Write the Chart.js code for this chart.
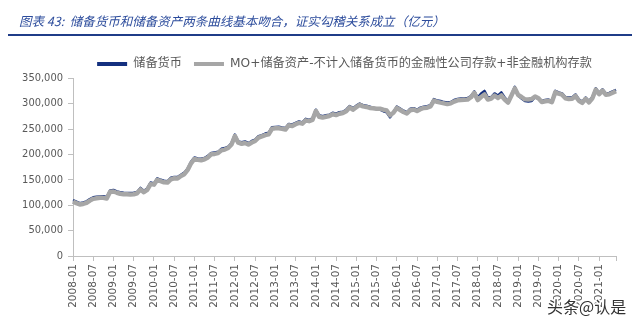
<!DOCTYPE html>
<html>
<head>
<meta charset="utf-8">
<script src="https://cdn.jsdelivr.net/npm/chart.js@4.4.1/dist/chart.umd.min.js"></script>
<style>
  html, body { margin: 0; padding: 0; background: #ffffff; }
  canvas { display: block; }
</style>
</head>
<body>
<canvas id="chart" width="640" height="323"></canvas>
<script>
// Monthly categories, 2008-01 through 2021-06
const startYear = 2008;
const monthCount = 162;
const months = [];
for (let i = 0; i < monthCount; i++) {
  const y = startYear + Math.floor(i / 12);
  const m = (i % 12) + 1;
  months.push(y + '-' + String(m).padStart(2, '0'));
}

const seriesNames = [
  '储备货币',
  'MO+储备资产-不计入储备货币的金融性公司存款+非金融机构存款'
];

// 储备货币（亿元）
const reserveMoney = [
  110000, 107000, 104000, 105500, 107500, 112000, 115500, 116500, 117000, 117500, 116000, 129000,
  130000, 127000, 125500, 124500, 124000, 124000, 124500, 126000, 134000, 128000, 133000, 144500,
  143000, 153000, 150000, 148000, 147000, 154000, 155500, 155500, 160000, 164000, 172000, 185500,
  194000, 192000, 191500, 193000, 197000, 203000, 204000, 205000, 211000, 212500, 215000, 222500,
  239000, 225500, 224000, 225500, 222000, 226500, 229000, 236000, 238000, 241000, 242500, 253500,
  254000, 254500, 253000, 252000, 260000, 259000, 262000, 265000, 263000, 270000, 268000, 271000,
  288000, 277000, 275000, 277000, 278000, 282000, 280000, 283000, 284000, 288000, 295000, 291000,
  296000, 300000, 297000, 296000, 294000, 292000, 289000, 288000, 285000, 283000, 273000, 283000,
  294000, 290000, 286000, 283000, 290000, 291000, 288000, 292000, 294000, 295000, 297000, 309000,
  306000, 305000, 303000, 302000, 303000, 307000, 309000, 310000, 310000, 311000, 315000, 324000,
  312000, 320000, 325000, 312000, 313000, 320000, 316000, 322000, 312000, 305000, 318000, 333000,
  316000, 310000, 305000, 304000, 305000, 313000, 309000, 305000, 307000, 308000, 305000, 325000,
  322000, 320000, 313000, 312000, 312000, 318000, 308000, 304000, 312000, 305000, 313000, 330000,
  321000, 328000, 320000, 321000, 324000, 327000
];

// M0 + 储备资产 - 不计入储备货币的金融性公司存款 + 非金融机构存款（亿元）
const reserveAssetsAdjusted = [
  107500, 104000, 101500, 102500, 104500, 109000, 112500, 113500, 114500, 114500, 113000, 126500,
  127000, 124500, 122500, 121500, 121500, 121000, 121500, 123500, 131000, 125500, 130000, 141500,
  140500, 150000, 147500, 145000, 144500, 151000, 153000, 152500, 157500, 161000, 169500, 182500,
  191000, 189500, 188500, 190500, 194000, 200500, 201000, 202500, 208000, 209500, 212500, 219500,
  236000, 223000, 221000, 222500, 219500, 223500, 226500, 233000, 235500, 238000, 239500, 250500,
  251500, 251500, 250500, 249000, 257500, 256000, 259500, 262000, 260500, 267000, 265500, 268000,
  285500, 274000, 272500, 274000, 275500, 279000, 277500, 280000, 281500, 285000, 292500, 288000,
  293000, 297500, 294500, 293500, 291500, 291000, 290000, 290000, 288000, 286500, 277000, 282000,
  291500, 287500, 283500, 280500, 287000, 288500, 285500, 289000, 291500, 292000, 294500, 306000,
  303500, 302000, 300500, 299000, 300500, 304000, 306500, 307000, 307500, 308000, 312500, 321000,
  307000, 313000, 318000, 308000, 310000, 316000, 311000, 316000, 308000, 302000, 316000, 330000,
  317000, 313000, 308500, 308000, 309000, 314000, 310500, 303000, 304500, 305500, 303000, 322500,
  319500, 317500, 310500, 309000, 309500, 315000, 305500, 301500, 309500, 302500, 310500, 327500,
  318500, 325500, 317500, 318500, 321500, 324500
];

const yTickValues = [0, 50000, 100000, 150000, 200000, 250000, 300000, 350000];

const titleText = '图表 43:  储备货币和储备资产两条曲线基本吻合，证实勾稽关系成立（亿元）';
const watermarkText = '头条@认是';

const axisColor = '#BFBFBF';
const labelColor = '#595959';
const yTickFont = { family: '"DejaVu Sans Condensed", "DejaVu Sans", sans-serif', size: 11 };
const xTickFont = { family: '"DejaVu Sans", sans-serif', size: 10.5 };

// Blue rule under the header
const headerRule = {
  id: 'headerRule',
  afterDraw(chart) {
    const ctx = chart.ctx;
    ctx.save();
    ctx.fillStyle = '#1F3C88';
    ctx.fillRect(8, 34, 624, 2);
    ctx.restore();
  }
};

// Small downward nudge of the legend row
const legendNudge = {
  id: 'legendNudge',
  afterLayout(chart) {
    if (chart.legend) {
      chart.legend.top += 2;
      chart.legend.bottom += 2;
    }
  }
};

// Corner watermark text
const watermark = {
  id: 'watermark',
  afterDraw(chart) {
    const ctx = chart.ctx;
    ctx.save();
    ctx.font = '16px "Noto Sans CJK SC", sans-serif';
    ctx.textBaseline = 'alphabetic';
    ctx.textAlign = 'left';
    ctx.lineJoin = 'round';
    ctx.lineWidth = 3;
    ctx.strokeStyle = '#ffffff';
    ctx.strokeText(watermarkText, 547, 313);
    ctx.fillStyle = '#333333';
    ctx.fillText(watermarkText, 547, 313);
    ctx.restore();
  }
};

new Chart(document.getElementById('chart'), {
  type: 'line',
  data: {
    labels: months,
    datasets: [
      {
        label: seriesNames[0],
        data: reserveMoney,
        borderColor: '#14307F',
        backgroundColor: '#14307F',
        borderWidth: 2.5,
        order: 1
      },
      {
        label: seriesNames[1],
        data: reserveAssetsAdjusted,
        borderColor: '#A6A6A6',
        backgroundColor: '#A6A6A6',
        borderWidth: 4.5,
        order: 0
      }
    ]
  },
  options: {
    responsive: false,
    animation: false,
    devicePixelRatio: 1,
    layout: { padding: { top: 12, left: 19, right: 24, bottom: 0 } },
    elements: {
      point: { radius: 0, hoverRadius: 0 },
      line: { tension: 0, borderJoinStyle: 'round' }
    },
    plugins: {
      tooltip: { enabled: false },
      title: {
        display: true,
        text: titleText,
        align: 'start',
        color: '#2C4C9C',
        font: { family: '"Noto Sans CJK SC", sans-serif', size: 12.5, style: 'italic', weight: 'normal' },
        padding: { top: 2, bottom: 15 }
      },
      legend: {
        display: true,
        position: 'top',
        fullSize: false,
        reverse: true,
        labels: {
          color: labelColor,
          font: { family: '"DejaVu Sans", "Noto Sans CJK SC", sans-serif', size: 12.2 },
          usePointStyle: true,
          pointStyle: 'line',
          pointStyleWidth: 30,
          padding: 12,
          generateLabels(chart) {
            const items = Chart.defaults.plugins.legend.labels.generateLabels(chart);
            items.forEach(item => { item.lineWidth = 4; item.lineCap = 'butt'; });
            return items;
          }
        }
      }
    },
    scales: {
      x: {
        type: 'category',
        offset: false,
        border: { display: true, color: axisColor, width: 1 },
        grid: {
          display: true,
          drawOnChartArea: false,
          drawTicks: true,
          tickLength: 5,
          tickColor: (ctx) => (ctx.index % 6 === 0 || ctx.index === monthCount - 1) ? axisColor : 'rgba(0,0,0,0)'
        },
        ticks: {
          autoSkip: false,
          minRotation: 90,
          maxRotation: 90,
          padding: 3,
          color: labelColor,
          font: xTickFont,
          callback: (value, index) => (index % 6 === 0 ? months[index] : '')
        },
        afterFit: (scale) => { scale.height = 67; }
      },
      y: {
        type: 'linear',
        min: yTickValues[0],
        max: yTickValues[yTickValues.length - 1],
        border: { display: true, color: axisColor, width: 1 },
        grid: {
          display: true,
          drawOnChartArea: false,
          drawTicks: true,
          tickLength: 5,
          tickColor: axisColor
        },
        afterBuildTicks: (scale) => { scale.ticks = yTickValues.map(v => ({ value: v })); },
        ticks: {
          padding: 5,
          color: labelColor,
          font: yTickFont,
          callback: (value) => Number(value).toLocaleString('en-US')
        },
        afterFit: (scale) => { scale.width = 54; }
      }
    }
  },
  plugins: [headerRule, legendNudge, watermark]
});
</script>
</body>
</html>
